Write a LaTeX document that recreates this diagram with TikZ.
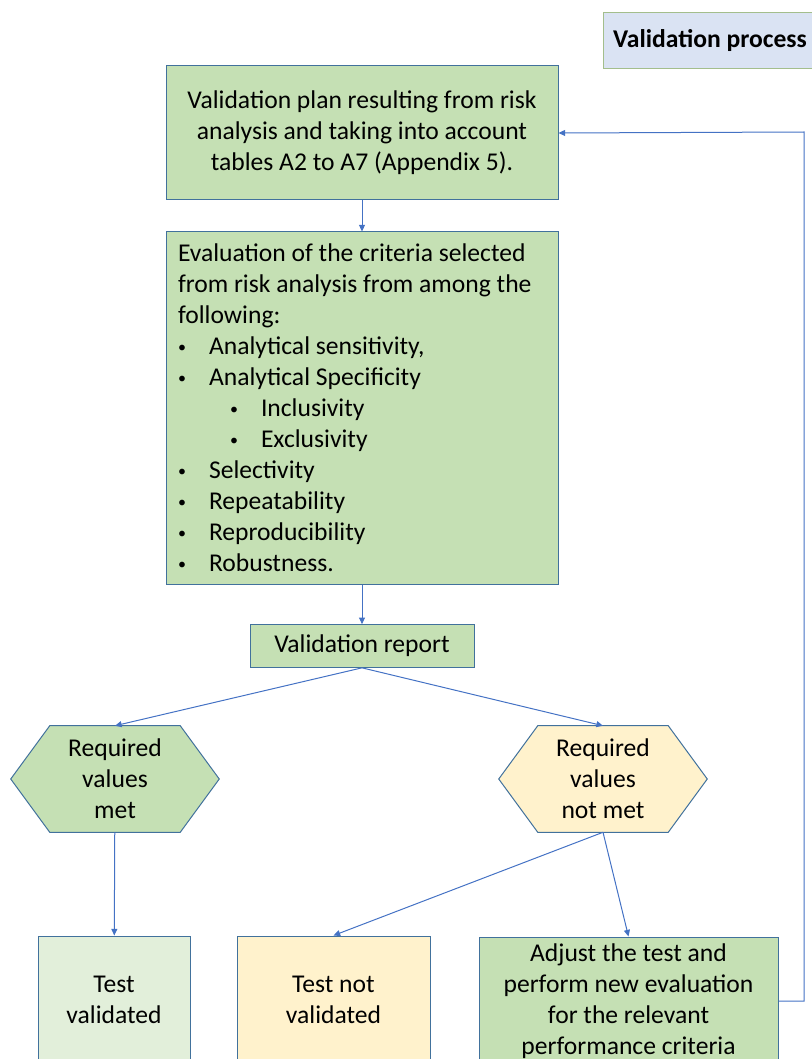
\documentclass[tikz,border=0pt]{standalone}
\usepackage{fontspec}
\setmainfont{Carlito}
\usepackage{xcolor}
\usepackage{tikz}
\usetikzlibrary{arrows.meta, backgrounds, calc, positioning}
\definecolor{boxgreen}{HTML}{C5E0B4}
\definecolor{palegreen}{HTML}{E2EFDA}
\definecolor{paleyellow}{HTML}{FFF2CC}
\definecolor{titleblue}{HTML}{DAE3F3}
\definecolor{titleedge}{HTML}{A3BE8C}
\definecolor{boxedge}{HTML}{41719C}
\definecolor{linkblue}{HTML}{4472C4}
\newcommand{\smallbul}{\raisebox{1.5pt}{\fontsize{12}{12}\selectfont\textbullet}}
\newcommand{\bulA}[1]{\makebox[23.25pt][l]{\smallbul}#1}
\newcommand{\bulB}[1]{\hspace{39pt}\makebox[23.25pt][l]{\smallbul}#1}

\begin{document}
\begin{tikzpicture}[x=0.75pt,y=-0.75pt,font=\fontsize{19.2}{23.25}\selectfont]
        \useasboundingbox (0,0) rectangle (812,1059);
        \begin{scope}[every node/.style={draw=boxedge,fill=boxgreen,line width=0.75pt,align=center,inner sep=0pt}]
          \node[fill=titleblue,draw=titleedge,minimum width=160.5pt,minimum height=42pt,font=\fontsize{19.2}{23.25}\selectfont\bfseries] (title) at (710,41) {Validation process};
          \node[minimum width=294pt,minimum height=100.5pt] (plan) at (362,133) {Validation plan resulting from risk\\analysis and taking into account\\tables A2 to A7 (Appendix 5).};
          \node[text width=276pt,align=flush left,minimum height=264pt,inner xsep=9pt] (crit) at (362,408) {Evaluation of the criteria selected\\from risk analysis from among the\\following:\\
            \bulA{Analytical sensitivity,}\\
            \bulA{Analytical Specificity}\\
            \bulB{Inclusivity}\\
            \bulB{Exclusivity}\\
            \bulA{Selectivity}\\
            \bulA{Repeatability}\\
            \bulA{Reproducibility}\\
            \bulA{Robustness.}};
          \node[minimum width=168pt,minimum height=32pt] (report) at (362,646) {Validation report};
          \node[fill=palegreen,minimum width=114pt,minimum height=96pt] (tval) at (114,1000) {Test\\validated};
          \node[fill=paleyellow,minimum width=144.75pt,minimum height=96pt] (tnot) at (333.5,1000) {Test not\\validated};
          \node[minimum width=224.25pt,minimum height=96pt] (adjust) at (628.5,1001) {Adjust the test and\\perform new evaluation\\for the relevant\\performance criteria};
        \end{scope}
        \begin{scope}[every node/.style={minimum width=97.5pt,minimum height=79.5pt,align=center,inner sep=0pt}]
          \node (met) at (115,779) {Required\\values\\met};
          \node (notmet) at (603,779) {Required\\values\\not met};
        \end{scope}
        \begin{scope}[on background layer]
          \foreach \hx/\col in {met/boxgreen,notmet/paleyellow}
            \draw[draw=boxedge,fill=\col,line width=0.75pt] (\hx.north west) -- (\hx.north east) -- ($(\hx.east)+(39,0)$) -- (\hx.south east) -- (\hx.south west) -- ($(\hx.west)+(-39,0)$) -- cycle;
        \end{scope}
        \coordinate (loop) at (804,132);
        \begin{scope}[every edge/.style={draw=linkblue,line width=0.75pt,-{Triangle[length=5pt,width=4.5pt]}}]
          \path (plan) edge (crit);
          \path (crit) edge (report);
          \path (report.south) edge (met.north);
          \path (report.south) edge (notmet.north);
          \path (met) edge (tval);
          \path (notmet.south) edge (tnot.north);
          \path (notmet.south) edge (adjust.north);
          \path (adjust.east) edge[to path={-| (loop) -- (\tikztotarget)}] (plan.east);
        \end{scope}
      \end{tikzpicture}
\end{document}
